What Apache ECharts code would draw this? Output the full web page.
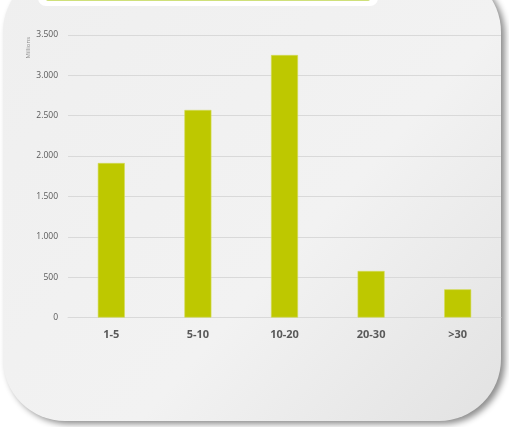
<!DOCTYPE html>
<html>
<head>
<meta charset="utf-8">
<script src="https://cdn.jsdelivr.net/npm/echarts@6/dist/echarts.min.js"></script>
<style>html,body{margin:0;padding:0;background:#fff}#c{width:509px;height:427px}</style>
</head>
<body>
<div id="c"></div>
<script>
const categories = ['1-5', '5-10', '10-20', '20-30', '>30'];
const values = [1914, 2571, 3252, 576, 349];
const yTicks = [0, 500, 1000, 1500, 2000, 2500, 3000, 3500];
const axisUnit = 'Millions';

const chart = echarts.init(document.getElementById('c'), null, {renderer: 'canvas'});
chart.setOption({
  animation: false,
  backgroundColor: '#ffffff',
  graphic: [
    {
      type: 'rect', z: -10, silent: true,
      shape: {x: 3, y: -30, width: 498, height: 451, r: [62, 62, 62, 62]},
      style: {
        fill: new echarts.graphic.LinearGradient(0, 0, 1, 1, [
          {offset: 0, color: '#efefef'},
          {offset: 0.6, color: '#f2f2f2'},
          {offset: 1, color: '#e2e2e2'}
        ]),
        shadowBlur: 6, shadowColor: 'rgba(0,0,0,0.45)', shadowOffsetX: 4, shadowOffsetY: 3
      }
    },
    {
      type: 'rect', z: -5, silent: true,
      shape: {x: 38, y: -20, width: 340, height: 26, r: 8},
      style: {fill: '#ffffff'}
    },
    {
      type: 'rect', z: -4, silent: true,
      shape: {x: 46, y: -10, width: 324, height: 11, r: 2},
      style: {fill: '#cfe07a'}
    },
    {
      type: 'text', left: 25, top: 37, rotation: Math.PI / 2,
      style: {text: axisUnit, font: '6px "Open Sans", sans-serif', fill: '#8c8c8c'}
    }
  ],
  grid: {left: 68, right: 8, top: 35, bottom: 109.5},
  xAxis: {
    type: 'category',
    data: categories,
    axisLine: {show: true, lineStyle: {color: '#d9d9d9', width: 1}},
    axisTick: {show: false},
    axisLabel: {color: '#595959', fontWeight: 'bold', fontSize: 11, fontFamily: '"Open Sans", sans-serif', margin: 12}
  },
  yAxis: {
    type: 'value',
    min: 0, max: 3500, interval: 500,
    axisLine: {show: false},
    axisTick: {show: false},
    splitLine: {lineStyle: {color: '#d9d9d9', width: 1}},
    axisLabel: {
      color: '#595959', fontSize: 8.5, fontFamily: '"Open Sans", sans-serif', margin: 10,
      formatter: v => yTicks.includes(v) ? (v >= 1000 ? Math.floor(v / 1000) + '.' + String(v % 1000).padStart(3, '0') : String(v)) : ''
    }
  },
  series: [{
    type: 'bar',
    data: values,
    barWidth: 27,
    itemStyle: {color: '#bec800', borderColor: '#d3dc5a', borderWidth: 0.6}
  }]
});
</script>
</body>
</html>
